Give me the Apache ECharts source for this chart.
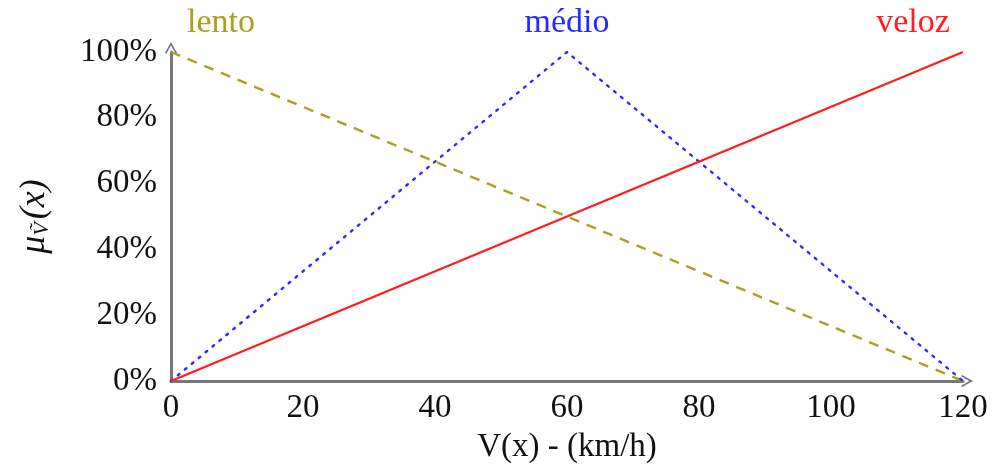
<!DOCTYPE html>
<html>
<head>
<meta charset="utf-8">
<script src="https://cdn.jsdelivr.net/npm/echarts@6/dist/echarts.min.js"></script>
<style>
  html, body { margin: 0; padding: 0; background: #fff; }
  #chart { width: 994px; height: 464px; }
</style>
</head>
<body>
<div id="chart"></div>
<script>
// Membership functions of the fuzzy speed sets
const speedKmh = [0, 60, 120];
const lento = [100, 50, 0];
const medio = [0, 100, 0];
const veloz = [0, 50, 100];
const yTicks = [0, 20, 40, 60, 80, 100];

const FONT = '"Liberation Serif", "DejaVu Serif", serif';
const COL_LENTO = 'rgb(168,160,30)';
const COL_MEDIO = 'rgb(40,40,255)';
const COL_VELOZ = 'rgb(255,30,30)';
const AXIS_COL = '#777';
const ARROW = 'path://M5,0 L10,9 L9,10 L5,3 L1,10 L0,9 Z';

function pts(values, labelIdx, text, offset, color) {
  return speedKmh.map((x, i) => {
    const d = { value: [x, values[i]] };
    if (i === labelIdx) {
      d.label = {
        show: true, formatter: text, position: 'top', distance: 11,
        offset: offset, color: color, fontFamily: FONT, fontSize: 34
      };
    }
    return d;
  });
}

function lineSeries(name, values, labelIdx, offset, color, style, z) {
  return {
    name: name, type: 'line', data: pts(values, labelIdx, name, offset, color),
    showSymbol: true, showAllSymbol: true, symbol: 'circle', symbolSize: 1,
    itemStyle: { color: 'rgba(0,0,0,0)', borderWidth: 0 },
    label: { show: false },
    clip: false,
    lineStyle: Object.assign({ color: color, width: 2.4 }, style),
    emphasis: { disabled: true }, z: z
  };
}

const chart = echarts.init(document.getElementById('chart'));
chart.setOption({
  animation: false,
  grid: { left: 171, right: 31, top: 52, bottom: 83, containLabel: false, outerBoundsMode: 'none' },
  xAxis: {
    type: 'value', min: 0, max: 120, interval: 20,
    axisLine: { show: true, lineStyle: { color: AXIS_COL, width: 3 },
      symbol: ['none', ARROW], symbolSize: [12, 12], symbolOffset: [0, 4] },
    axisTick: { show: false },
    splitLine: { show: false },
    axisLabel: { color: '#111', fontFamily: FONT, fontSize: 33, margin: 11 },
    name: 'V(x) - (km/h)', nameLocation: 'middle', nameGap: 50,
    nameTextStyle: { color: '#111', fontFamily: FONT, fontSize: 33 }
  },
  yAxis: {
    type: 'value', min: 0, max: 100, interval: 20,
    axisLine: { show: true, lineStyle: { color: AXIS_COL, width: 3 },
      symbol: ['none', ARROW], symbolSize: [12, 12], symbolOffset: [0, 4] },
    axisTick: { show: false },
    splitLine: { show: false },
    axisLabel: { color: '#111', fontFamily: FONT, fontSize: 33, margin: 14,
      formatter: v => yTicks.includes(v) ? v + '%' : '' },
    name: '{mu|μ}{sub|Ṽ}{p|(x)}', nameLocation: 'middle', nameGap: 118, nameRotate: 90,
    nameTextStyle: {
      rich: {
        mu: { fontFamily: FONT, fontSize: 36, fontStyle: 'italic', color: '#111' },
        sub: { fontFamily: FONT, fontSize: 22, fontStyle: 'italic', color: '#111', verticalAlign: 'bottom', padding: [14, 3, 0, 0] },
        p: { fontFamily: FONT, fontSize: 36, fontStyle: 'italic', color: '#111' }
      }
    }
  },
  series: [
    lineSeries('lento', lento, 0, [50, 0], COL_LENTO, { type: [10, 8] }, 3),
    lineSeries('médio', medio, 1, [0, 0], COL_MEDIO, { type: [2, 7], cap: 'round' }, 3),
    lineSeries('veloz', veloz, 2, [-50, 0], COL_VELOZ, {}, 4)
  ]
});
</script>
</body>
</html>
